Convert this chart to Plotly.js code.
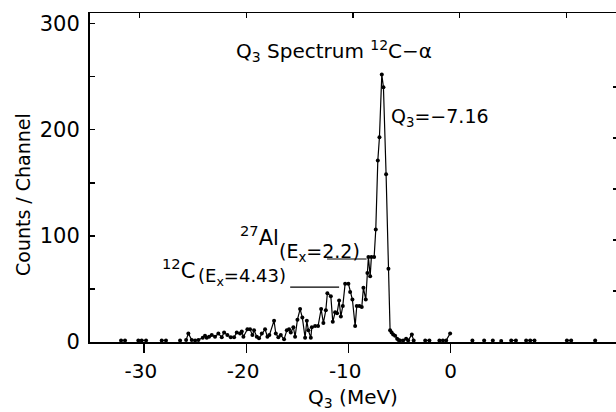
<!DOCTYPE html>
<html><head><meta charset="utf-8">
<script src="https://cdn.plot.ly/plotly-3.0.1.min.js"></script>
<style>html,body{margin:0;padding:0;background:#fff;overflow:hidden}</style>
</head><body>
<div id="chart" style="width:616px;height:412px"></div>
<script>
// Q3 (MeV) of each drawn channel; null breaks the line between runs of channels
const q3 = [
  -32.26, -31.87, null,
  -30.57, -30.24, -29.81, null,
  -28.28, -27.86, null,
  -26.48, null,
  -25.89, -25.67, -25.34, -25.01, -24.69, -24.26, -24.04, -23.87, -23.64, -23.38,
  -23.06, -22.73, -22.40, -22.17, -21.85, -21.52, -21.19, -20.93, -20.61, -20.44,
  -20.28, -19.89, -19.63, -19.40, -19.24, -18.97, -18.75, -18.48, -18.16, -17.93,
  -17.74, -17.28, -17.11, -16.86, -16.62, -16.30, -16.03, -15.81, -15.64, -15.39,
  -15.22, -14.99, -14.73, -14.51, -14.24, -14.07, -13.92, -13.68, -13.58, -13.26,
  -12.97, -12.67, -12.45, -12.21, -12.06, -11.72, -11.53, -11.30, -11.11, -10.91,
  -10.74, -10.55, -10.32, -10.00, -9.83, -9.61, -9.34, -9.18, -8.92, -8.69,
  -8.53, -8.30, -8.14, -8.04, -7.87, -7.75, -7.48, -7.32, -7.12, -6.96,
  -6.73, -6.57, -6.31, -6.08, -5.92, -5.77, -5.62, -5.43, -5.23, -5.10,
  -4.94, -4.64, -4.35, -4.15, -3.79, -3.61, null,
  -2.48, -2.07, null,
  -1.09, -0.75, -0.43, -0.04, null,
  2.14, null, 3.29, null, 4.14, null, 4.96, null,
  5.94, 6.40, null,
  7.40, 7.80, 8.22, null,
  11.39, 11.81, null,
  14.16
];
const counts = [
  1.5, 1.5, null,
  1.5, 1.5, 1.5, null,
  1.5, 1.5, null,
  1.5, null,
  2, 8, 2, 1.5, 2, 4, 6, 4, 5, 6.6,
  5, 8, 4.5, 9, 6.5, 4.5, 4.5, 9, 8, 10,
  5, 12, 12, 6.5, 11, 5, 3.5, 8, 12, 5,
  6.5, 20, 8, 4.5, 6.5, 2.5, 11, 12, 9, 14,
  5, 21, 31, 23, 4, 20, 11, 4, 14, 15,
  15, 31, 18, 30, 46, 43, 19, 28, 27, 39,
  24, 34, 55, 55, 47, 40, 15, 34, 34, 33,
  51, 40, 65, 80, 62, 80, 80, 106, 171, 193,
  252, 240, 158, 69, 11, 9, 7, 6, 3, 2,
  1.5, 1.5, 3, 1.5, 7, 1.5, null,
  1.5, 1.5, null,
  1.5, 1.5, 1.5, 8, null,
  1.5, null, 1.5, null, 1.5, null, 1, null,
  1.5, 1.5, null,
  1.5, 1.5, 1.5, null,
  1.5, 1.5, null,
  1.5
];
const xTickVals = [-30, -20, -10, 0];
const xTickText = ['-30\u00a0', '-20\u00a0', '-10\u00a0', '0'];
const yTickVals = [0, 50, 100, 150, 200, 250, 300];
const yTickText = ['0', '', '100', '', '200', '', '300'];
const topTickVals = [-30, -20, -10, 0, 10];
const rightTickVals = [50, 100, 150, 200, 250];

// pixel -> paper helpers for text placement (plot area: x 90..616, y 13..342)
const px = p => (p - 90) / 526;
const py = p => (342 - p) / 329;

const FONT = 'DejaVu Sans, Verdana, sans-serif';

const traces = [
  {x: q3, y: counts, type: 'scatter', mode: 'lines+markers', connectgaps: false,
   line: {color: '#000', width: 1.2}, marker: {color: '#000', size: 4}, hoverinfo: 'skip', cliponaxis: false},
  {x: [], y: [], xaxis: 'x2', yaxis: 'y', type: 'scatter', hoverinfo: 'skip'},
  {x: [], y: [], xaxis: 'x', yaxis: 'y2', type: 'scatter', hoverinfo: 'skip'}
];

const layout = {
  width: 616, height: 412,
  margin: {l: 90, r: 0, t: 13, b: 70, pad: 0},
  paper_bgcolor: '#fff', plot_bgcolor: '#fff',
  showlegend: false,
  font: {family: FONT, color: '#000', size: 18},
  title: {text: 'Q<sub>3</sub> Spectrum <sup>12</sup>C\u2212\u03b1', x: 334 / 616, xanchor: 'center',
          y: 1 - 51 / 412, yanchor: 'middle', font: {size: 20, family: FONT, color: '#000'}},
  xaxis: {range: [-35.3, 16.2], tickvals: xTickVals, ticktext: xTickText, ticks: 'outside', ticklen: 9,
          tickwidth: 1.5, tickcolor: '#000', showline: true, linewidth: 1.5, linecolor: '#000',
          showgrid: false, zeroline: false, tickfont: {size: 20}, ticklabelstandoff: 1,
          title: {text: 'Q<sub>3</sub> (MeV)', font: {size: 20}, standoff: 8}},
  xaxis2: {overlaying: 'x', side: 'top', anchor: 'y', range: [-34.65, 14.65], tickvals: topTickVals,
           ticks: 'inside', ticklen: 5, tickwidth: 1.5, tickcolor: '#000', showticklabels: false,
           showline: true, linewidth: 1.5, linecolor: '#000', showgrid: false, zeroline: false},
  yaxis: {range: [0, 310], tickvals: yTickVals, ticktext: yTickText, ticks: 'inside', ticklen: 5,
          tickwidth: 1.5, tickcolor: '#000', showline: true, linewidth: 2, linecolor: '#000',
          showgrid: false, zeroline: false, tickfont: {size: 21}, ticklabelstandoff: 4},
  yaxis2: {overlaying: 'y', side: 'right', anchor: 'x', range: [0, 322.5], tickvals: rightTickVals,
           ticks: 'inside', ticklen: 3, tickwidth: 1.5, tickcolor: '#000', showticklabels: false,
           showline: false, showgrid: false, zeroline: false},
  annotations: [
    {xref: 'paper', yref: 'paper', x: px(23), y: py(195), xanchor: 'center', yanchor: 'middle',
     text: 'Counts / Channel', textangle: -90, showarrow: false, font: {size: 19}},
    {xref: 'paper', yref: 'paper', x: px(389), y: py(117), xanchor: 'left', yanchor: 'middle',
     text: 'Q<sub>3</sub>=\u22127.16', showarrow: false, font: {size: 19}},
    {xref: 'paper', yref: 'paper', x: px(160), y: py(269), xanchor: 'left', yanchor: 'middle',
     text: '<sup>12</sup>C', showarrow: false, font: {size: 21}},
    {xref: 'paper', yref: 'paper', x: px(196), y: py(277), xanchor: 'left', yanchor: 'middle',
     text: '(E<sub>x</sub>=4.43)', showarrow: false, font: {size: 18}},
    {xref: 'paper', yref: 'paper', x: px(238), y: py(236), xanchor: 'left', yanchor: 'middle',
     text: '<sup>27</sup>Al', showarrow: false, font: {size: 21}},
    {xref: 'paper', yref: 'paper', x: px(277), y: py(252), xanchor: 'left', yanchor: 'middle',
     text: '(E<sub>x</sub>=2.2)', showarrow: false, font: {size: 19}}
  ],
  shapes: [
    {type: 'line', xref: 'x', yref: 'y', x0: -15.70, x1: -10.91, y0: 51.8, y1: 51.8, line: {color: '#000', width: 1.2}},
    {type: 'line', xref: 'x', yref: 'y', x0: -12.09, x1: -8.22, y0: 78.2, y1: 78.2, line: {color: '#000', width: 1.2}}
  ]
};

Plotly.newPlot('chart', traces, layout, {staticPlot: true, displayModeBar: false});
</script>
</body></html>
